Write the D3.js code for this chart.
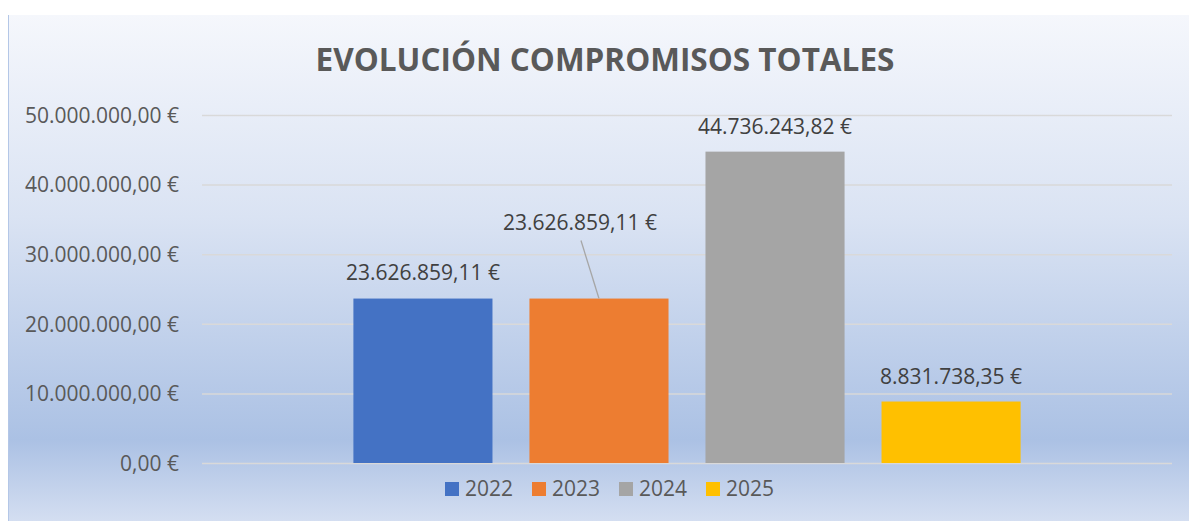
<!DOCTYPE html>
<html>
<head>
<meta charset="utf-8">
<script src="https://cdn.jsdelivr.net/npm/d3@7"></script>
<style>
  html, body { margin: 0; padding: 0; background: #ffffff; }
  svg { display: block; }
  text { font-family: "Open Sans", "Noto Sans", sans-serif; }
</style>
</head>
<body>
<svg id="chart" width="1189" height="521"></svg>
<script>
// ---- data ----
const title = "EVOLUCIÓN COMPROMISOS TOTALES";
const category = [""];
const seriesNames = ["2022", "2023", "2024", "2025"];
const seriesValues = [23626859.11, 23626859.11, 44736243.82, 8831738.35];
const dataLabels = ["23.626.859,11 €", "23.626.859,11 €", "44.736.243,82 €", "8.831.738,35 €"];
const seriesColors = ["#4472c4", "#ed7d31", "#a5a5a5", "#ffc000"];
const yTicks = [0, 10000000, 20000000, 30000000, 40000000, 50000000];
const yTickLabels = ["0,00 €", "10.000.000,00 €", "20.000.000,00 €", "30.000.000,00 €", "40.000.000,00 €", "50.000.000,00 €"];

const svg = d3.select("#chart");
const W = 1189, H = 521;

// background with gradient
const defs = svg.append("defs");
const grad = defs.append("linearGradient").attr("id", "bg").attr("x1", 0).attr("y1", 0).attr("x2", 0).attr("y2", 1);
grad.append("stop").attr("offset", "0%").attr("stop-color", "#f5f7fc");
grad.append("stop").attr("offset", "40%").attr("stop-color", "#dae3f3");
grad.append("stop").attr("offset", "84%").attr("stop-color", "#abc1e4");
grad.append("stop").attr("offset", "100%").attr("stop-color", "#d4def1");
svg.append("rect").attr("x", 8).attr("y", 15).attr("width", W - 8).attr("height", H - 15).attr("fill", "url(#bg)");
svg.append("line").attr("x1", 8.5).attr("x2", 8.5).attr("y1", 15).attr("y2", H).attr("stroke", "#b4c7e7").attr("stroke-width", 1);

// scales
const plot = { left: 202, right: 1172, top: 115, bottom: 463 };
const y = d3.scaleLinear().domain([0, 50000000]).range([plot.bottom, plot.top]);
const x0 = d3.scaleBand().domain(category).range([plot.left, plot.right]).padding(0);
const x1 = d3.scaleBand().domain(seriesNames).range([x0(category[0]), x0(category[0]) + x0.bandwidth()])
  .paddingInner(0.21).paddingOuter(0.86);

// gridlines
const yAxis = d3.axisLeft(y).tickValues(yTicks).tickSize(-(plot.right - plot.left))
  .tickFormat((d, i) => yTickLabels[i]).tickPadding(23);
const gy = svg.append("g").attr("transform", `translate(${plot.left},0)`).call(yAxis);
gy.select(".domain").remove();
gy.selectAll(".tick line").attr("stroke", "#d9d9d9").attr("stroke-width", 1.5);
gy.selectAll(".tick text").attr("fill", "#595959").attr("font-size", 21).attr("dy", "0.35em");

// bars
svg.append("g").selectAll("rect").data(seriesNames).join("rect")
  .attr("x", d => x1(d))
  .attr("width", x1.bandwidth())
  .attr("y", (d, i) => y(seriesValues[i]))
  .attr("height", (d, i) => y(0) - y(seriesValues[i]))
  .attr("fill", (d, i) => seriesColors[i]);

// data labels (label 2023 moved up with a leader line)
const labelOffsets = [
  { dx: 0, dy: -26 },
  { dx: -19, dy: -76 },
  { dx: 0, dy: -25 },
  { dx: 0, dy: -25 }
];
const lbl = svg.append("g");
seriesNames.forEach((s, i) => {
  const cx = x1(s) + x1.bandwidth() / 2 + labelOffsets[i].dx;
  const cy = y(seriesValues[i]) + labelOffsets[i].dy;
  if (i === 1) {
    lbl.append("line")
      .attr("x1", cx + 1).attr("y1", cy + 18)
      .attr("x2", x1(s) + x1.bandwidth() / 2).attr("y2", y(seriesValues[i]))
      .attr("stroke", "#a6a6a6").attr("stroke-width", 1.3);
  }
  lbl.append("text").attr("x", cx).attr("y", cy).attr("dy", "0.35em")
    .attr("text-anchor", "middle").attr("font-size", 21).attr("fill", "#404040")
    .text(dataLabels[i]);
});

// title
svg.append("text").attr("x", 605).attr("y", 60).attr("dy", "0.35em")
  .attr("text-anchor", "middle").attr("font-size", 31.5).attr("font-weight", "bold")
  .attr("fill", "#595959").text(title);

// legend
const legend = svg.append("g");
const legStart = 445, legStep = 87;
seriesNames.forEach((s, i) => {
  const g = legend.append("g").attr("transform", `translate(${legStart + i * legStep},482)`);
  g.append("rect").attr("width", 14).attr("height", 14).attr("fill", seriesColors[i]);
  g.append("text").attr("x", 20).attr("y", 7).attr("dy", "0.35em")
    .attr("font-size", 21).attr("fill", "#595959").text(s);
});
</script>
</body>
</html>
